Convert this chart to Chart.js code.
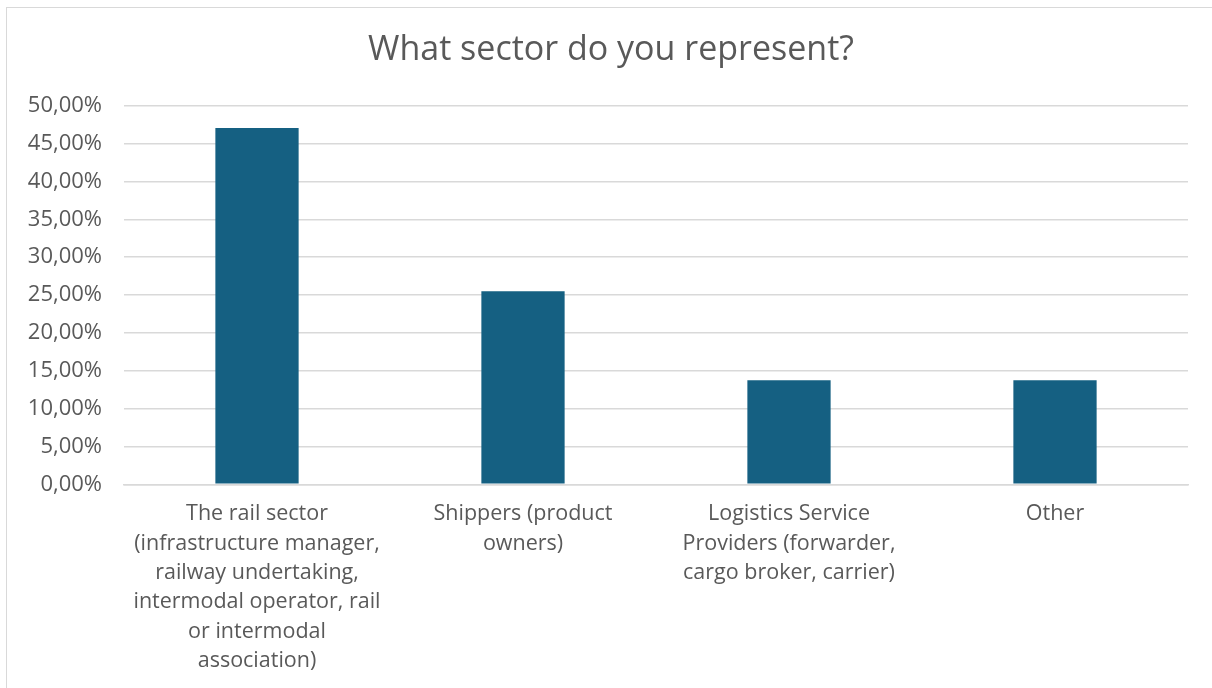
<!DOCTYPE html>
<html>
<head>
<meta charset="utf-8">
<script src="https://cdn.jsdelivr.net/npm/chart.js@4/dist/chart.umd.min.js"></script>
<style>
  body { margin: 0; background: #fff; overflow: hidden; }
  #frame { position: absolute; left: 6px; top: 7px; width: 1220px; height: 700px; border: 1.5px solid #d9d9d9; box-sizing: border-box; }
  #wrap { position: absolute; left: 0; top: 0; width: 1212px; height: 688px; }
</style>
</head>
<body>
<div id="frame"></div>
<div id="wrap"><canvas id="chart"></canvas></div>
<script>
const sectors = [
    ["The rail sector", "(infrastructure manager,", "railway undertaking,", "intermodal operator, rail", "or intermodal", "association)"],
    ["Shippers (product", "owners)"],
    ["Logistics Service", "Providers (forwarder,", "cargo broker, carrier)"],
    "Other"
];
const shares = [47.06, 25.49, 13.73, 13.73];

const textColor = "#595959";
const fontFamily = "'Open Sans', sans-serif";

// centre the title on the frame rather than the whole canvas
const titleShift = {
    id: "titleShift",
    afterLayout(chart){
        chart.titleBlock.left += 34;
    }
};

function main(){
    new Chart("chart", {
        type: "bar",
        data: {
            labels: sectors,
            datasets: [{
                data: shares,
                backgroundColor: "#156082",
                categoryPercentage: 1,
                barPercentage: 0.313
            }]
        },
        options: {
            responsive: false,
            animation: false,
            layout: {padding: {top: 0, right: 24, bottom: 0, left: 0}},
            plugins: {
                legend: {display: false},
                tooltip: {enabled: false},
                title: {
                    display: true,
                    text: "What sector do you represent?",
                    color: textColor,
                    font: {family: fontFamily, size: 34, weight: "normal", lineHeight: 1.2},
                    padding: {top: 30, bottom: 35}
                }
            },
            scales: {
                x: {
                    grid: {display: false, drawTicks: false},
                    border: {color: "#d9d9d9", width: 1.5},
                    ticks: {
                        color: textColor,
                        font: {family: fontFamily, size: 21.5, lineHeight: 1.37},
                        padding: 15,
                        maxRotation: 0,
                        autoSkip: false
                    },
                    afterFit: scale => { scale.height -= 3; }
                },
                y: {
                    min: 0,
                    max: 50,
                    border: {display: false},
                    grid: {color: "#d9d9d9", lineWidth: 1.5, drawTicks: false},
                    ticks: {
                        stepSize: 5,
                        color: textColor,
                        font: {family: fontFamily, size: 22},
                        padding: 22,
                        callback: v => v.toFixed(2).replace(".", ",") + "%"
                    },
                    afterFit: scale => { scale.width = 124; }
                }
            }
        },
        plugins: [titleShift]
    });
}

const canvas = document.getElementById("chart");
canvas.width = 1212;
canvas.height = 688;
main();
</script>
</body>
</html>
